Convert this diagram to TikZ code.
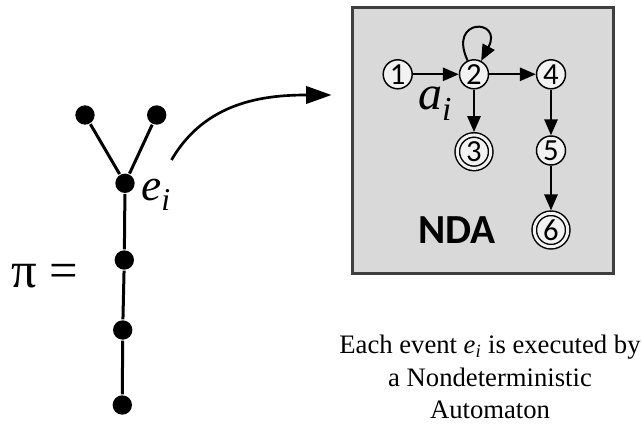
\documentclass[tikz,border=0pt]{standalone}
\usepackage{fontspec}
\setmainfont{Liberation Serif}
\newfontfamily\calibri{Carlito}
\usepackage{xcolor}
\usetikzlibrary{arrows.meta}
\definecolor{statefill}{HTML}{F2F2F2}
\definecolor{boxfill}{HTML}{D9D9D9}
\definecolor{boxline}{HTML}{3F3F3F}
\newcommand{\ital}[2]{\textit{#1}\textsubscript{\textit{#2}}}

\begin{document}
\begin{tikzpicture}[x=0.75pt, y=-0.75pt, >={Triangle[length=12pt,width=10pt]}, line width=1.5pt,
    dot/.style={circle, fill=black, inner sep=0pt, minimum size=14.5pt},
    state/.style={circle, draw, line width=1.1pt, fill=statefill, inner sep=0pt, minimum size=21.75pt, font=\calibri\fontsize{23}{24}\selectfont},
    accept/.style={state, double=statefill, double distance=2.25pt, minimum size=25.1pt, outer sep=2.2pt}]
                \useasboundingbox (0,0) rectangle (643,428);

                % the run pi
                \node[dot] (t1) at (85,115) {};
                \node[dot] (t2) at (156.7,115) {};
                \node[dot] (e) at (125,183.3) {};
                \node[dot] (t3) at (124.3,260) {};
                \node[dot] (t4) at (122.7,330) {};
                \node[dot] (t5) at (122.3,405) {};
                \draw[line width=2.25pt] (t1) -- (e) (t2) -- (e) (e) -- (t3) -- (t4) -- (t5);
                \node (ei) at (156,195) {\fontsize{34}{36}\selectfont\ital{e}{i}};
                \node (pi) at (45,276) {\fontsize{38}{40}\selectfont π =};

                \coordinate (from) at (171.5,160);
                \coordinate (to) at (331.5,95);
                \draw[line width=2pt, -{Triangle[length=19pt,width=13pt]}] (from) to[out=60, in=180] (to);

                % the automaton
                \draw[boxline, fill=boxfill, line width=2.25pt] (352.7,7.7) rectangle (613.3,273.3);
                \node[state] (s1) at (397.7,74.3) {1};
                \node[state] (s2) at (474,74.3) {2};
                \node[state] (s4) at (551,74.3) {4};
                \node[accept] (s3) at (474,151.7) {3};
                \node[state] (s5) at (551,150.5) {5};
                \node[accept] (s6) at (551,230) {6};
                \node (ai) at (435,104) {\fontsize{36}{38}\selectfont\ital{a}{i}};
                \node (nda) at (457,230) {\calibri\bfseries\fontsize{31}{32}\selectfont NDA};

                \draw[->] (s1) -- (s2);
                \draw[->] (s2) -- (s4);
                \draw[->] (s2) -- (s3);
                \draw[->] (s4) -- (s5);
                \draw[->] (s5) -- (s6);
                \draw[->] (s2) to[out=115, in=62, looseness=9] (s2);

                \node[align=center, font=\fontsize{20}{24.5}\selectfont] (caption) at (490,377) {Each event \ital{e}{i} is executed by\\ a Nondeterministic\\ Automaton};
            \end{tikzpicture}
\end{document}
